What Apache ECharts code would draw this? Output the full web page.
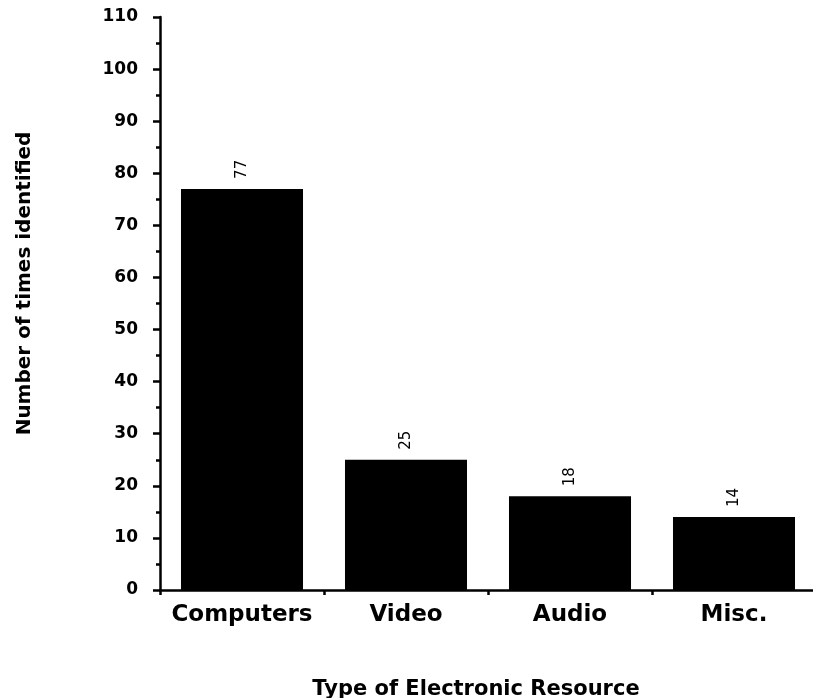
<!DOCTYPE html>
<html><head><meta charset="utf-8">
<script src="https://cdn.jsdelivr.net/npm/echarts@6/dist/echarts.min.js"></script>
<style>html,body{margin:0;padding:0;background:#fff}#c{width:813px;height:698px}</style>
</head><body><div id="c"></div>
<script>
const categories = ["Computers", "Video", "Audio", "Misc."];
const counts = [77, 25, 18, 14];
const yTicks = [0, 10, 20, 30, 40, 50, 60, 70, 80, 90, 100, 110];

const chart = echarts.init(document.getElementById('c'), null, {renderer: 'canvas'});
const font = '"DejaVu Sans", Arial, sans-serif';
chart.setOption({
  animation: false,
  grid: {left: 160, top: 17, bottom: 108, width: 656, outerBoundsMode: 'none', containLabel: false},
  xAxis: {
    type: 'category', data: categories,
    name: 'Type of Electronic Resource', nameLocation: 'middle', nameGap: 89,
    nameTextStyle: {fontFamily: font, fontWeight: 'bold', fontSize: 21, color: '#000', padding: [0, 24, 0, 0]},
    axisLine: {lineStyle: {color: '#000', width: 2.5}},
    axisTick: {show: true, interval: 0, length: 5, lineStyle: {color: '#000', width: 2.5}},
    axisLabel: {interval: 0, hideOverlap: false, fontFamily: font, fontWeight: 'bold', fontSize: 23, color: '#000', margin: 14}
  },
  yAxis: {
    type: 'value', min: yTicks[0], max: yTicks[yTicks.length - 1], interval: 10,
    name: 'Number of times identified', nameLocation: 'middle', nameGap: 125,
    nameTextStyle: {fontFamily: font, fontWeight: 'bold', fontSize: 20, color: '#000', padding: [0, 0, 0, 40]},
    axisLine: {show: true, lineStyle: {color: '#000', width: 2.5}},
    axisTick: {show: true, length: 7, lineStyle: {color: '#000', width: 2.5}},
    minorTick: {show: true, splitNumber: 2, length: 4, lineStyle: {color: '#000', width: 2.5}},
    splitLine: {show: false},
    axisLabel: {fontFamily: font, fontWeight: 'bold', fontSize: 17, color: '#000', margin: 22}
  },
  series: [{
    type: 'bar', data: counts, barCategoryGap: '25.6%',
    itemStyle: {color: '#000'},
    label: {show: true, position: 'top', rotate: 90, align: 'left', verticalAlign: 'middle',
      distance: 10, fontFamily: font, fontSize: 15, color: '#000'}
  }]
});
</script></body></html>
